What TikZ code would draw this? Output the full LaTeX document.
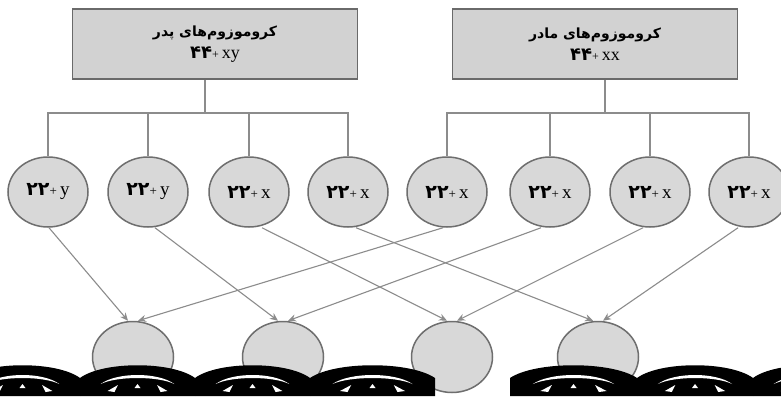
\documentclass[tikz,border=0pt]{standalone}
\usepackage{fontspec}
\setmainfont{Liberation Serif}
\newfontfamily\arfont[Script=Arabic]{DejaVu Sans}
\TeXXeTstate=1
\usetikzlibrary{shapes.geometric,arrows.meta}
\definecolor{boxfill}{HTML}{D2D2D2}
\definecolor{boxline}{HTML}{6A6A6A}
\definecolor{circfill}{HTML}{D8D8D8}
\definecolor{circline}{HTML}{6E6E6E}
\definecolor{linegray}{HTML}{8C8C8C}
\tikzset{
  parent/.style={draw=boxline, fill=boxfill, line width=1.5pt, minimum width=285pt, minimum height=70pt, inner sep=0pt, align=center},
  gam/.style={ellipse, draw=circline, fill=circfill, line width=1.5pt, minimum width=80pt, minimum height=70pt, inner sep=0pt},
  zyg/.style={ellipse, draw=circline, fill=circfill, line width=1.5pt, minimum width=81pt, minimum height=71pt, inner sep=0pt},
  link/.style={draw=linegray, line width=1.1pt},
  arr/.style={link, -{Stealth[length=8pt,width=7pt]}},
}
\newcommand{\fa}[1]{{\arfont\bfseries\beginR #1\endR}}
\newcommand{\gtext}[2]{{\fontsize{19}{20}\selectfont{\arfont\bfseries #1}{\fontsize{13}{13}\selectfont+}\,#2}}
\begin{document}
\begin{tikzpicture}[x=1pt,y=-1pt]
\fill[white] (0,0) rectangle (781,396);
\useasboundingbox (0,0) rectangle (781,396);
\clip (0,0) rectangle (781,396);

% parent boxes
\node[parent] (pf) at (215,44) {\fontsize{14}{16}\selectfont\fa{کروموزوم‌های پدر}\\[6pt]{\fontsize{18}{19}\selectfont{\arfont\bfseries ۴۴}{\fontsize{12}{12}\selectfont+}\,xy}};
\node[parent] (pm) at (595,44) {\fontsize{14}{16}\selectfont\fa{کروموزوم‌های مادر}\\[6pt]{\fontsize{18}{19}\selectfont{\arfont\bfseries ۴۴}{\fontsize{12}{12}\selectfont+}\,xx}};

% gametes
\node[gam] (g1) at (48,192)  {\gtext{۲۲}{y}};
\node[gam] (g2) at (148,192) {\gtext{۲۲}{y}};
\node[gam] (g3) at (249,192) {\gtext{۲۲}{x}};
\node[gam] (g4) at (348,192) {\gtext{۲۲}{x}};
\node[gam] (g5) at (447,192) {\gtext{۲۲}{x}};
\node[gam] (g6) at (550,192) {\gtext{۲۲}{x}};
\node[gam] (g7) at (650,192) {\gtext{۲۲}{x}};
\node[gam] (g8) at (749,192) {\gtext{۲۲}{x}};

% zygotes
\node[zyg] (z1) at (133,357) {};
\node[zyg] (z2) at (283,357) {};
\node[zyg] (z3) at (452,357) {};
\node[zyg] (z4) at (598,357) {};

% tree connectors
\coordinate (jf) at (205,113);
\coordinate (jm) at (605,113);
\draw[link] (pf.south -| jf) -- (jf);
\draw[link] (pm.south -| jm) -- (jm);
\foreach \i in {1,2,3,4} { \draw[link] (jf) -| (g\i); }
\foreach \i in {5,6,7,8} { \draw[link] (jm) -| (g\i); }

% arrows
\draw[arr] ([xshift=1pt]g1.south) -- ([xshift=-5pt]z1.north);
\draw[arr] ([xshift=-4pt]g5.south) -- ([xshift=5pt]z1.north);
\draw[arr] ([xshift=7pt]g2.south) -- ([xshift=-5pt]z2.north);
\draw[arr] ([xshift=-9pt]g6.south) -- ([xshift=5pt]z2.north);
\draw[arr] ([xshift=13pt]g3.south) -- ([xshift=-5pt]z3.north);
\draw[arr] ([xshift=-7pt]g7.south) -- ([xshift=5pt]z3.north);
\draw[arr] ([xshift=8pt]g4.south) -- ([xshift=-5pt]z4.north);
\draw[arr] ([xshift=-11pt]g8.south) -- ([xshift=5pt]z4.north);

% black scribble band at the bottom
\foreach \a/\b in {-35/80, 80/195, 195/310, 310/435, 510/637, 637/753, 753/868} {
  \pgfmathsetmacro\w{\b-\a}
  \fill[black] (\a,396) -- (\a,378) .. controls ({\a+0.2*\w},361) and ({\b-0.2*\w},361) .. (\b,378) -- (\b,396) -- cycle;
  \fill[white] ({\a+0.18*\w},384) .. controls ({\a+0.32*\w},372) and ({\b-0.32*\w},372) .. ({\b-0.18*\w},384)
     .. controls ({\b-0.32*\w},376) and ({\a+0.32*\w},376) .. cycle;
  \fill[white] ({\a+0.24*\w},391) -- ({\a+0.33*\w},385) -- ({\a+0.30*\w},392) -- cycle;
  \fill[white] ({\b-0.24*\w},391) -- ({\b-0.33*\w},385) -- ({\b-0.30*\w},392) -- cycle;
  \fill[white] ({\a+0.5*\w-3},388) -- ({\a+0.5*\w+3},388) -- ({\a+0.5*\w},384) -- cycle;
}
\end{tikzpicture}
\end{document}
